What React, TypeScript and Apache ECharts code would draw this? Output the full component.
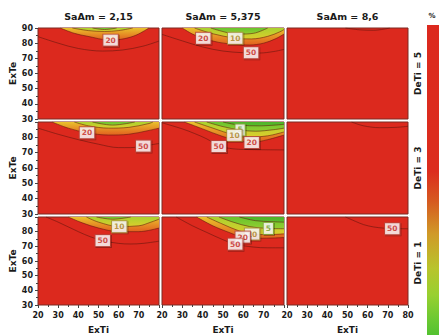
import { useEffect, useRef } from "react";
import * as echarts from "echarts";

// Facet categories
const saAmValues = ["2,15", "5,375", "8,6"];
const deTiValues = ["5", "3", "1"];
const exTiTicks = [20, 30, 40, 50, 60, 70, 80];
const exTeTicks = [30, 40, 50, 60, 70, 80, 90];
const levelOrder = [50, 20, 10, 5, 2];

// Contour lines (ExTi, ExTe) per panel, keyed by contour level (%)
const deTi5saAm215: Record<number, number[][]> = {
  50: [[20, 84.3], [30, 80], [40, 76.5], [52, 74.8], [62, 75.5], [72, 78], [80, 81.4]],
  20: [[31, 90], [38, 86.5], [44, 84.7], [56, 82], [63, 83], [69, 85.5], [75, 90]],
  10: [[37, 90], [45, 88.3], [53, 87.7], [60, 88.3], [67, 90]],
  5: [[47, 90], [53, 89], [59, 90]],
};
const deTi5saAm5375: Record<number, number[][]> = {
  50: [[20, 85.8], [30, 81.5], [40, 77.5], [50, 74.8], [60, 73.7], [68, 73.5], [75, 74.5], [80, 75.9]],
  20: [[30, 90], [35, 86], [40.3, 83.2], [48, 80.5], [56, 79.2], [63, 78.8], [70, 80], [76, 83], [80, 86]],
  10: [[36, 90], [45, 86.2], [56, 83.3], [64, 82.8], [72, 84.5], [78, 87.5], [80, 89]],
  5: [[44, 90], [52, 87], [58, 86], [65, 86.5], [72, 90]],
};
const deTi5saAm86: Record<number, number[][]> = {
  50: [[49, 90], [56, 88.8], [63, 88.5], [71, 90]],
};
const deTi3saAm215: Record<number, number[][]> = {
  50: [[20, 86], [30, 82], [40, 78.5], [50, 75.5], [60, 73.3], [66, 73.3], [72.2, 74.3], [80, 76]],
  20: [[27, 90], [35, 86], [44.3, 83], [55, 81.5], [65, 82], [75, 84.5], [80, 86]],
  10: [[38, 90], [45, 87.5], [55, 86], [65, 86.5], [75, 89], [77, 90]],
  5: [[47, 90], [57, 88], [68, 90]],
};
const deTi3saAm5375: Record<number, number[][]> = {
  50: [[20, 89.5], [30, 85.5], [36, 82.5], [42, 79], [47.9, 74.5], [55, 72.5], [65, 72], [80, 71.8]],
  20: [[31, 90], [40, 85.5], [50, 80.5], [58, 77.8], [64.1, 76.7], [72, 78.5], [80, 81.5]],
  10: [[36, 90], [45, 86], [55.6, 81.5], [63, 80.2], [72, 81], [80, 83.5]],
  5: [[42, 90], [50, 87], [58.4, 84.8], [66, 84], [75, 85], [80, 86]],
  2: [[50, 90], [58, 88], [68, 87.5], [80, 88.5]],
};
const deTi3saAm86: Record<number, number[][]> = {
  50: [[52, 90], [58, 87.5], [66, 86.3], [74, 86.5], [80, 87.2]],
};
const deTi1saAm215: Record<number, number[][]> = {
  50: [[24, 90], [30, 86.5], [40, 80], [46, 76.5], [52.1, 73.9], [60, 72], [66, 71.6], [72, 72], [80, 73.5]],
  20: [[35, 90], [42, 86], [50, 82.5], [60, 80], [70, 80], [80, 82.5]],
  10: [[44, 90], [50, 86.5], [60.3, 83.5], [70, 84], [76, 86.5], [80, 88.5]],
  5: [[49, 90], [57, 88.5], [66, 90]],
};
const deTi1saAm5375: Record<number, number[][]> = {
  50: [[27, 90], [35, 84], [42, 79.5], [50, 74.5], [56, 71.5], [65, 69.5], [72, 69], [80, 69]],
  20: [[37, 90], [45, 84], [52, 80], [59.7, 76.3], [68, 75.5], [75, 75.7], [80, 76]],
  10: [[42, 90], [50, 85], [58, 80.5], [64.3, 78.4], [72, 78], [80, 78.5]],
  5: [[48, 90], [55, 86.5], [63, 83.5], [72.3, 82.2], [80, 82]],
  2: [[58, 90], [66, 87.5], [74, 86.8], [80, 86.5]],
};
const deTi1saAm86: Record<number, number[][]> = {
  50: [[49, 90], [54, 87], [58, 84.8], [63, 83.2], [68, 82.4], [72.2, 82], [80, 82]],
};

// Inline contour labels: [ExTi, ExTe, level]
const labels5_215 = [[56, 82, 20]];
const labels5_5375 = [[40.3, 83.2, 20], [56, 83.2, 10], [63.8, 73.7, 50]];
const labels5_86: number[][] = [];
const labels3_215 = [[44.3, 83, 20], [72.2, 74.3, 50]];
const labels3_5375 = [[58.4, 84.8, 5], [55.6, 81.3, 10], [64.1, 76.6, 20], [47.9, 74, 50]];
const labels3_86: number[][] = [];
const labels1_215 = [[60.3, 83.4, 10], [52.1, 73.9, 50]];
const labels1_5375 = [[72.3, 82.2, 5], [64.3, 78.4, 10], [59.7, 76.3, 20], [56, 71.5, 50]];
const labels1_86 = [[72.2, 82, 50]];

const panelContours = [
  [deTi5saAm215, deTi5saAm5375, deTi5saAm86],
  [deTi3saAm215, deTi3saAm5375, deTi3saAm86],
  [deTi1saAm215, deTi1saAm5375, deTi1saAm86],
];
const panelLabels = [
  [labels5_215, labels5_5375, labels5_86],
  [labels3_215, labels3_5375, labels3_86],
  [labels1_215, labels1_5375, labels1_86],
];

const GRID_LEFT = [38, 162, 287];
const GRID_WIDTH = [121, 122, 121];
const GRID_TOP = [28, 122, 217];
const GRID_HEIGHT = [91, 92, 92];

const FONT = "DejaVu Sans";
const BASE_RED = "#dc291e";

const vgrad = (top: string, bottom: string) =>
  new echarts.graphic.LinearGradient(0, 0, 0, 1, [
    { offset: 0, color: top },
    { offset: 1, color: bottom },
  ]);

const bandFill: Record<number, () => any> = {
  20: () => vgrad("#e9c22c", "#e2601f"),
  10: () => vgrad("#a9d22f", "#dccd2c"),
  5: () => vgrad("#68c42e", "#94cd30"),
  2: () => vgrad("#4cb42a", "#5cbc2c"),
};

const labelColors: Record<number, { text: string; border: string }> = {
  50: { text: "#c4261c", border: "#b8483e" },
  20: { text: "#c4261c", border: "#b8483e" },
  10: { text: "#a8801c", border: "#a89040" },
  5: { text: "#6c9c1c", border: "#84a83c" },
};

function buildOption() {
  const grid: any[] = [];
  const xAxis: any[] = [];
  const yAxis: any[] = [];
  const series: any[] = [];

  for (let r = 0; r < 3; r++) {
    for (let c = 0; c < 3; c++) {
      const i = r * 3 + c;
      const bottomRow = r === 2;
      const leftCol = c === 0;
      grid.push({
        left: GRID_LEFT[c],
        top: GRID_TOP[r],
        width: GRID_WIDTH[c],
        height: GRID_HEIGHT[r],
        show: true,
        backgroundColor: BASE_RED,
        borderColor: "#7c2a22",
        borderWidth: 1,
      });
      xAxis.push({
        type: "value",
        gridIndex: i,
        min: exTiTicks[0],
        max: exTiTicks[exTiTicks.length - 1],
        interval: 10,
        name: bottomRow ? "ExTi" : "",
        nameLocation: "middle",
        nameGap: 20,
        nameTextStyle: { fontFamily: FONT, fontWeight: "bold", fontSize: 9, color: "#1a1a1a" },
        axisLine: { show: false },
        axisTick: { show: bottomRow, length: 3, lineStyle: { color: "#444" } },
        minorTick: { show: bottomRow, splitNumber: 2, length: 2, lineStyle: { color: "#444" } },
        splitLine: { show: false },
        axisLabel: {
          show: bottomRow,
          showMaxLabel: c === 2,
          margin: 6,
          fontFamily: FONT,
          fontWeight: "bold",
          fontSize: 8,
          color: "#1a1a1a",
        },
      });
      yAxis.push({
        type: "value",
        gridIndex: i,
        min: exTeTicks[0],
        max: exTeTicks[exTeTicks.length - 1],
        interval: 10,
        name: leftCol ? "ExTe" : "",
        nameLocation: "middle",
        nameRotate: 90,
        nameGap: 20,
        nameTextStyle: { fontFamily: FONT, fontWeight: "bold", fontSize: 9, color: "#1a1a1a" },
        axisLine: { show: false },
        axisTick: { show: leftCol, length: 3, lineStyle: { color: "#444" } },
        minorTick: { show: leftCol, splitNumber: 2, length: 2, lineStyle: { color: "#444" } },
        splitLine: { show: false },
        axisLabel: {
          show: leftCol,
          showMaxLabel: r === 0,
          margin: 5,
          fontFamily: FONT,
          fontWeight: "bold",
          fontSize: 8,
          color: "#1a1a1a",
        },
      });

      const contours = panelContours[r][c];
      levelOrder.forEach((lv, k) => {
        const pts = contours[lv];
        if (!pts) return;
        series.push({
          type: "line",
          name: `${lv}%`,
          xAxisIndex: i,
          yAxisIndex: i,
          data: pts,
          smooth: 0.35,
          symbol: "none",
          silent: true,
          z: 2 + k,
          lineStyle: { color: "rgba(95,22,12,0.7)", width: 0.8 },
          areaStyle: bandFill[lv] ? { origin: "end", color: bandFill[lv](), opacity: 1 } : undefined,
        });
      });

      const labs = panelLabels[r][c];
      if (labs.length) {
        series.push({
          type: "scatter",
          xAxisIndex: i,
          yAxisIndex: i,
          z: 20,
          silent: true,
          symbol: "rect",
          symbolSize: 1,
          itemStyle: { color: "rgba(0,0,0,0)" },
          data: labs.map(([x, y, lv]) => ({
            value: [x, y, lv],
            label: {
              color: labelColors[lv].text,
              borderColor: labelColors[lv].border,
            },
          })),
          label: {
            show: true,
            position: "inside",
            formatter: (p: any) => String(p.value[2]),
            fontFamily: FONT,
            fontWeight: "bold",
            fontSize: 7.5,
            backgroundColor: "#ffffff",
            borderWidth: 1,
            padding: [2, 2, 1, 2],
            shadowColor: "rgba(0,0,0,0.35)",
            shadowOffsetX: 1,
            shadowOffsetY: 1,
            shadowBlur: 0,
          },
        });
      }
    }
  }

  const graphic: any[] = [];
  saAmValues.forEach((v, c) => {
    graphic.push({
      type: "text",
      x: GRID_LEFT[c] + GRID_WIDTH[c] / 2,
      y: 16,
      style: {
        text: `SaAm = ${v}`,
        fill: "#1a1a1a",
        font: `bold 9.5px "${FONT}"`,
        textAlign: "center",
        textVerticalAlign: "middle",
      },
    });
  });
  deTiValues.forEach((v, r) => {
    graphic.push({
      type: "text",
      x: 418,
      y: GRID_TOP[r] + GRID_HEIGHT[r] / 2,
      rotation: Math.PI / 2,
      style: {
        text: `DeTi = ${v}`,
        fill: "#1a1a1a",
        font: `bold 9px "${FONT}"`,
        textAlign: "center",
        textVerticalAlign: "middle",
      },
    });
  });
  graphic.push({
    type: "text",
    x: 432,
    y: 16,
    style: {
      text: "%",
      fill: "#1a1a1a",
      font: `bold 7px "${FONT}"`,
      textAlign: "center",
      textVerticalAlign: "middle",
    },
  });
  graphic.push({
    type: "rect",
    shape: { x: 427, y: 25, width: 14, height: 312 },
    style: {
      fill: new echarts.graphic.LinearGradient(0, 0, 0, 1, [
        { offset: 0, color: "#dc291e" },
        { offset: 0.47, color: "#dc2d1e" },
        { offset: 0.565, color: "#d65a20" },
        { offset: 0.67, color: "#d09a28" },
        { offset: 0.78, color: "#b8c42c" },
        { offset: 0.865, color: "#98d030" },
        { offset: 0.95, color: "#68c832" },
        { offset: 1, color: "#50c030" },
      ]),
    },
  });

  return { animation: false, backgroundColor: "#ffffff", grid, xAxis, yAxis, series, graphic };
}

export default function App() {
  const ref = useRef<HTMLDivElement>(null);
  useEffect(() => {
    if (!ref.current) return;
    const chart = echarts.init(ref.current, undefined, { renderer: "svg" });
    chart.setOption(buildOption() as any);
    return () => chart.dispose();
  }, []);
  return <div ref={ref} style={{ width: 439, height: 335, position: "absolute", left: 0, top: 0 }} />;
}
